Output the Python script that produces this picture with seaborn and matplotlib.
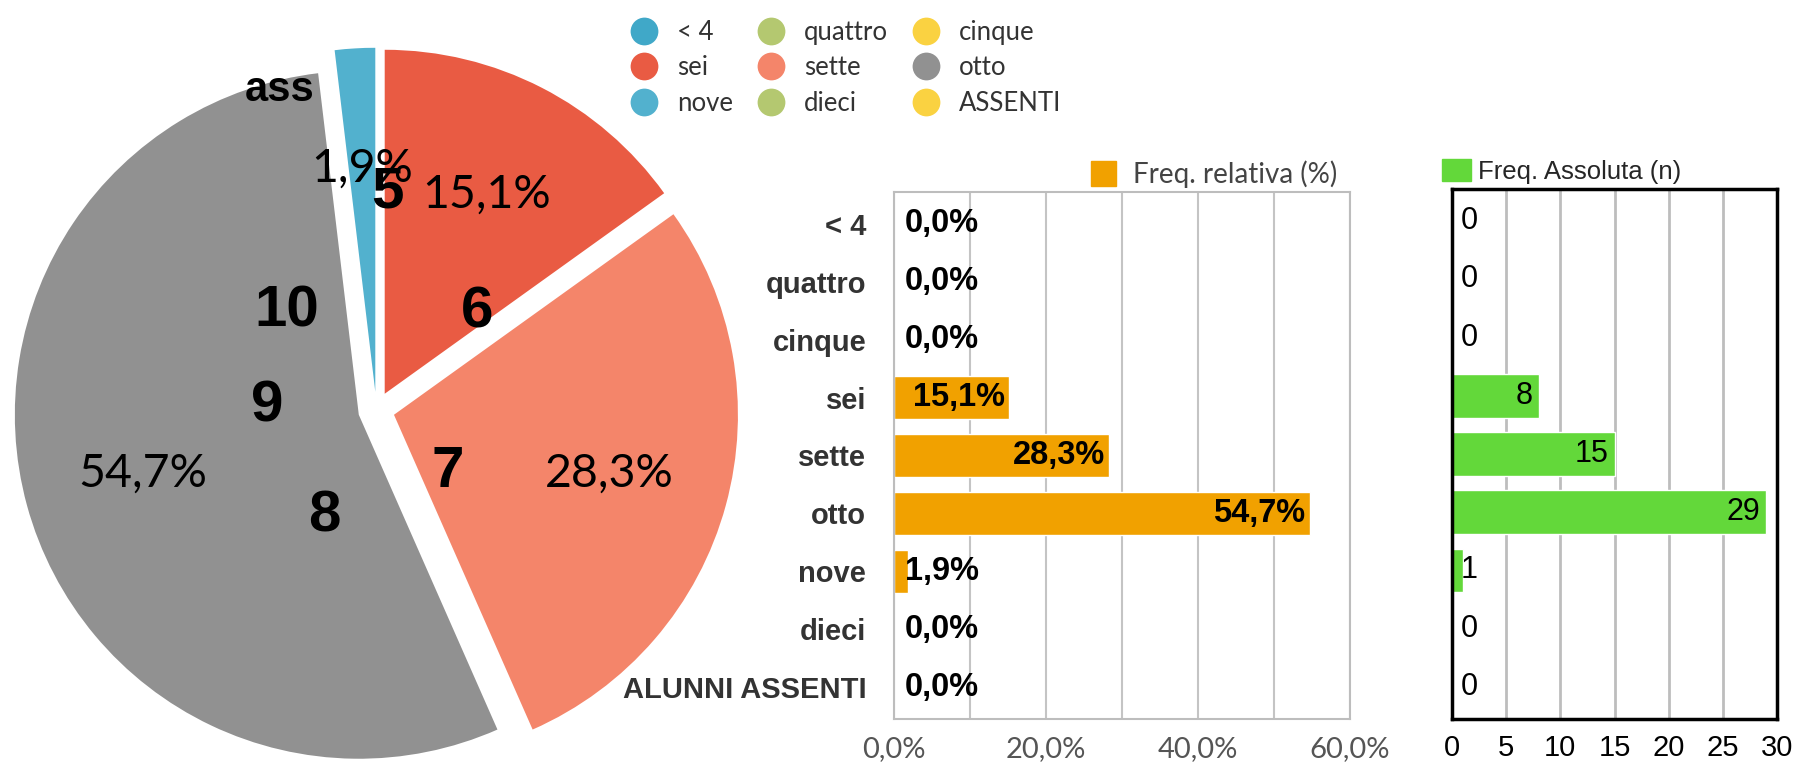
import matplotlib
matplotlib.use("Agg")
import matplotlib.pyplot as plt
from matplotlib.lines import Line2D
from matplotlib.patches import Patch
import seaborn as sns

# data
categories = ['< 4', 'quattro', 'cinque', 'sei', 'sette', 'otto', 'nove', 'dieci', 'ALUNNI ASSENTI']
legend_labels = ['< 4', 'quattro', 'cinque', 'sei', 'sette', 'otto', 'nove', 'dieci', 'ASSENTI']
counts = [0, 0, 0, 8, 15, 29, 1, 0, 0]
rel_freq = [0.0, 0.0, 0.0, 15.1, 28.3, 54.7, 1.9, 0.0, 0.0]
pie_colors = ['#40A8C8', '#B4C870', '#FAD241', '#E95B43', '#F4856A',
              '#919191', '#52B1CE', '#B4C870', '#FAD241']
rel_ticks = [0, 10, 20, 30, 40, 50, 60]
abs_ticks = [0, 5, 10, 15, 20, 25, 30]

# bold overlay marks on the pie (pie units, radius 1)
pie_marks = ['5', '6', '7', '8', '9', '10', 'ass']
pie_mark_xy = [(0.033, 0.631), (0.292, 0.282), (0.208, -0.180), (-0.150, -0.311),
               (-0.318, 0.009), (-0.260, 0.285), (-0.281, 0.930)]

sns.set_theme(style='white')
plt.rcParams['font.family'] = ['Liberation Sans', 'DejaVu Sans']

fig = plt.figure(figsize=(17.97, 7.64), dpi=100)

# ---- pie ----
ax_pie = fig.add_axes([-0.0011, -0.0319, 0.4211, 0.9906])


def fmt_pct(p):
    if p < 0.05:
        return ''
    return f'{p:.1f}%'.replace('.', ',')


wedges, _, autotexts = ax_pie.pie(counts, colors=pie_colors, startangle=90, counterclock=False,
                                  explode=[0.053] * len(counts), autopct=fmt_pct,
                                  pctdistance=0.65, wedgeprops=dict(linewidth=0))
for t in autotexts:
    t.set_fontfamily(['Lato', 'DejaVu Sans'])
    t.set_fontweight('normal')
    t.set_fontsize(33.5)
    t.set_color('black')
for lab, (x, y) in zip(pie_marks, pie_mark_xy):
    size = 30 if lab == 'ass' else 42
    ax_pie.text(x, y, lab, ha='center', va='center', fontsize=size, fontweight='bold', color='black')
ax_pie.set_xlim(-1.1, 1.1)
ax_pie.set_ylim(-1.1, 1.1)
ax_pie.set_aspect('equal')
ax_pie.axis('off')

# pie legend, 3 columns filled row-wise
order = [0, 3, 6, 1, 4, 7, 2, 5, 8]
handles = [Line2D([], [], marker='o', linestyle='none', markersize=20,
                  markerfacecolor=pie_colors[i], markeredgewidth=0, label=legend_labels[i])
           for i in order]
leg = fig.legend(handles=handles, ncol=3, loc='upper left', bbox_to_anchor=(0.337, 1.0045),
                 frameon=False, prop={'family': ['Lato', 'DejaVu Sans'], 'size': 18.5},
                 handlelength=1.2, handletextpad=0.68, columnspacing=0.88, labelspacing=0.42)
for t in leg.get_texts():
    t.set_color('#333333')

# ---- relative frequency bars ----
ax_rel = fig.add_axes([0.4975, 0.0589, 0.2538, 0.6898])
sns.barplot(x=rel_freq, y=categories, orient='h', color='#F1A100', saturation=1,
            width=0.75, ax=ax_rel)
ax_rel.set_xlim(0, 60)
ax_rel.set_ylim(8.55, -0.55)
ax_rel.set_xticks(rel_ticks)
ax_rel.set_xticklabels([f'{v:.1f}%'.replace('.', ',') if v % 20 == 0 else '' for v in rel_ticks],
                       fontfamily=['Lato', 'DejaVu Sans'], fontsize=21, color='#555555')
ax_rel.tick_params(axis='x', length=0, pad=12)
ax_rel.tick_params(axis='y', length=0, pad=20)
for t in ax_rel.get_yticklabels():
    t.set_fontsize(21)
    t.set_fontweight('bold')
    t.set_color('#333333')
ax_rel.grid(axis='x', color='#C4C4C4', linewidth=1.5)
ax_rel.set_axisbelow(True)
for s in ax_rel.spines.values():
    s.set_visible(True)
    s.set_color('#BDBDBD')
    s.set_linewidth(1.5)
for i, v in enumerate(rel_freq):
    txt = f'{v:.1f}%'.replace('.', ',')
    if v < 5:
        ax_rel.annotate(txt, (0, i), xytext=(8, 0), textcoords='offset points',
                        ha='left', va='center', fontsize=23.5, fontweight='bold', color='black')
    else:
        ax_rel.annotate(txt, (v, i), xytext=(-3, 0), textcoords='offset points',
                        ha='right', va='center', fontsize=23.5, fontweight='bold', color='black')
ax_rel.set_xlabel('')
ax_rel.set_ylabel('')
lg = ax_rel.legend(handles=[Patch(color='#F1A100', label='Freq. relativa (%)')],
                   loc='lower right', bbox_to_anchor=(0.98, 1.0), frameon=False,
                   borderpad=0, borderaxespad=0.15, handlelength=0.9, handleheight=1.0,
                   handletextpad=0.6, prop={'family': ['Lato', 'DejaVu Sans'], 'size': 20})
lg.get_texts()[0].set_color('#444444')

# ---- absolute frequency bars ----
ax_abs = fig.add_axes([0.8080, 0.0589, 0.1809, 0.6937])
sns.barplot(x=counts, y=categories, orient='h', color='#63D83A', saturation=1,
            width=0.75, ax=ax_abs)
ax_abs.set_xlim(0, 30)
ax_abs.set_ylim(8.55, -0.55)
ax_abs.set_xticks(abs_ticks)
ax_abs.set_xticklabels([str(v) for v in abs_ticks], fontsize=21, color='black')
ax_abs.tick_params(axis='x', length=0, pad=11)
ax_abs.set_yticks([])
ax_abs.grid(axis='x', color='#BDBDBD', linewidth=2)
ax_abs.set_axisbelow(True)
for s in ax_abs.spines.values():
    s.set_visible(True)
    s.set_color('black')
    s.set_linewidth(2.5)
for i, v in enumerate(counts):
    if v < 2:
        ax_abs.annotate(str(v), (0, i), xytext=(6, 0), textcoords='offset points',
                        ha='left', va='center', fontsize=22, color='black')
    else:
        ax_abs.annotate(str(v), (v, i), xytext=(-4, 0), textcoords='offset points',
                        ha='right', va='center', fontsize=22, color='black')
ax_abs.set_xlabel('')
ax_abs.set_ylabel('')
ax_abs.legend(handles=[Patch(color='#63D83A', label='Freq. Assoluta (n)')],
              loc='lower left', bbox_to_anchor=(-0.045, 1.0), frameon=False,
              borderpad=0, borderaxespad=0.2, handlelength=1.1, handleheight=0.9,
              handletextpad=0.3, prop={'size': 18.5})

fig.savefig('out.png', dpi=100)
